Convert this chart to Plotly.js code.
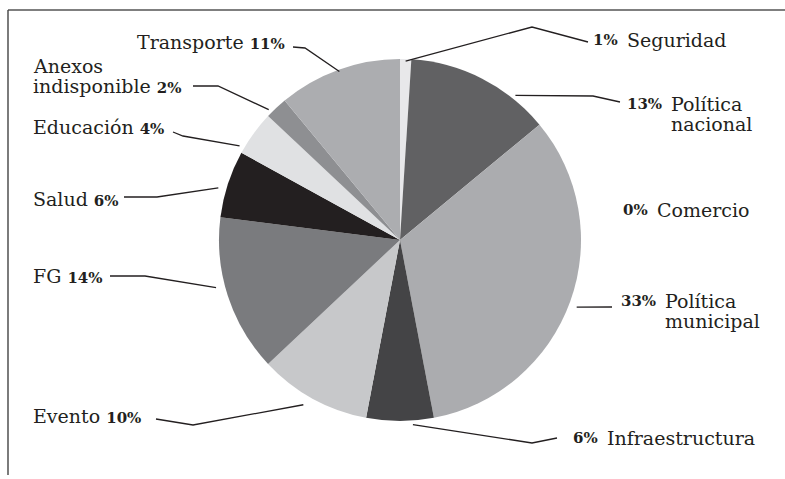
<!DOCTYPE html>
<html>
<head>
<meta charset="utf-8">
<script src="https://cdn.plot.ly/plotly-3.0.1.min.js"></script>
<style>html,body{margin:0;padding:0;background:#fff;}#chart{width:785px;height:479px;}</style>
</head>
<body>
<div id="chart"></div>
<script>
// ---- data ----
const categories = ['Seguridad','Política nacional','Comercio','Política municipal','Infraestructura','Evento','FG','Salud','Educación','Anexos indisponible','Transporte'];
const values = [1, 13, 0, 33, 6, 10, 14, 6, 4, 2, 11];

// ---- styles ----
const sliceColors = ['#e8e8ea','#616163','#9a9b9e','#abacaf','#444446','#c7c8ca','#7a7b7e','#231f20','#e0e1e3','#8e8f92','#acadb0'];
const W = 785, H = 479;
const CX = 400, CY = 240, R = 181;
const ink = '#231f20';
const FONT = 'DejaVu Serif';

// label layout (positions in pixels)
const labelLayout = [
  {side:'right', x:625, y:[40], lines:['Seguridad'], elbow:[532,27], end:[588,42], shift:0, rad:179},
  {side:'right', x:669, y:[104,124], lines:['Política','nacional'], elbow:[593,96], end:[620,102], shift:11.6, rad:185},
  {side:'right', x:655, y:[210], lines:['Comercio'], noLine:true},
  {side:'right', x:663, y:[301,321], lines:['Política','municipal'], elbow:null, end:[612,307], shift:1, rad:189},
  {side:'right', x:605, y:[438], lines:['Infraestructura'], elbow:[532,443], end:[557,438], shift:-4, rad:185},
  {side:'left', x:31, y:[416], lines:['Evento'], elbow:[193,425], end:[156,419], shift:1.6, rad:191},
  {side:'left', x:31, y:[276], lines:['FG'], elbow:[145,276], end:[110,276], shift:3.5, rad:190},
  {side:'left', x:31, y:[199], lines:['Salud'], elbow:[157,197], end:[124,197], shift:-2, rad:189},
  {side:'left', x:31, y:[127], lines:['Educación'], elbow:[183,136], end:[173,132], shift:-5.6, rad:186},
  {side:'left', x:31, y:[66,86], lines:['Anexos','indisponible'], elbow:[218,86], end:[193,86], shift:-2, rad:185},
  {side:'left', x:135, y:[42], lines:['Transporte'], elbow:[305,48], end:[293,47], shift:0, rad:179}
];

const px = x => x / W;
const py = y => 1 - y / H;

const total = values.reduce((a,b)=>a+b,0);
const annotations = [];
const shapes = [
  {type:'line', xref:'paper', yref:'paper', x0:px(8), x1:px(785), y0:py(10), y1:py(10), line:{color:'#555555', width:1.6}},
  {type:'line', xref:'paper', yref:'paper', x0:px(8), x1:px(8), y0:py(10), y1:py(475), line:{color:'#444444', width:1.4}}
];

let cum = 0;
values.forEach((v, i) => {
  const mid = (cum + v/2) / total * 360;
  cum += v;
  const L = labelLayout[i];
  const pct = v + '%';
  // leader line
  if (!L.noLine) {
    const th = (mid + L.shift) * Math.PI / 180;
    const ax = CX + L.rad * Math.sin(th), ay = CY - L.rad * Math.cos(th);
    let p = 'M ' + px(ax) + ',' + py(ay);
    if (L.elbow) p += ' L ' + px(L.elbow[0]) + ',' + py(L.elbow[1]);
    p += ' L ' + px(L.end[0]) + ',' + py(L.end[1]);
    shapes.push({type:'path', xref:'paper', yref:'paper', path:p, line:{color:ink, width:1.3}});
  }
  // text
  if (L.side === 'right') {
    annotations.push({xref:'paper', yref:'paper', x:px(L.x - 5), y:py(L.y[0]), xanchor:'right', yanchor:'middle',
      text:'<b>' + pct + '</b>', showarrow:false, font:{family:FONT, size:15, color:ink}});
    L.lines.forEach((t, k) => {
      annotations.push({xref:'paper', yref:'paper', x:px(L.x), y:py(L.y[k]), xanchor:'left', yanchor:'middle',
        text:t, showarrow:false, font:{family:FONT, size:19, color:ink}});
    });
  } else {
    L.lines.forEach((t, k) => {
      const last = k === L.lines.length - 1;
      const txt = last ? t + ' <span style="font-size:15px"><b>' + pct + '</b></span>' : t;
      annotations.push({xref:'paper', yref:'paper', x:px(L.x), y:py(L.y[k]), xanchor:'left', yanchor:'middle',
        text:txt, showarrow:false, font:{family:FONT, size:19, color:ink}});
    });
  }
});

const trace = {
  type:'pie',
  labels: categories,
  values: values,
  sort:false,
  direction:'clockwise',
  rotation:0,
  textinfo:'none',
  hoverinfo:'none',
  showlegend:false,
  marker:{colors:sliceColors, line:{width:0}},
  domain:{x:[px(CX-R), px(CX+R)], y:[py(CY+R), py(CY-R)]}
};

Plotly.newPlot('chart', [trace], {
  width:W, height:H,
  margin:{l:0, r:0, t:0, b:0},
  paper_bgcolor:'#ffffff',
  showlegend:false,
  annotations: annotations,
  shapes: shapes
}, {staticPlot:true, displayModeBar:false});
</script>
</body>
</html>
